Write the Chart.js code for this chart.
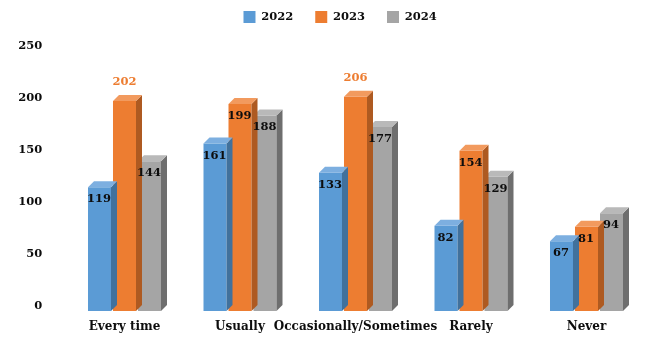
<!DOCTYPE html>
<html>
<head>
<meta charset="utf-8">
<script src="https://cdn.jsdelivr.net/npm/chart.js@4"></script>
<style>
  html, body { margin: 0; padding: 0; background: #ffffff; }
  #wrap { width: 660px; height: 356px; position: relative; }
</style>
</head>
<body>
<div id="wrap"><canvas id="c" width="660" height="356"></canvas></div>
<script>
const categories = ["Every time", "Usually", "Occasionally/Sometimes", "Rarely", "Never"];
const seriesNames = ["2022", "2023", "2024"];
const values2022 = [119, 161, 133, 82, 67];
const values2023 = [202, 199, 206, 154, 81];
const values2024 = [144, 188, 177, 129, 94];
const yTicks = [0, 50, 100, 150, 200, 250];

const frontColors = ["#5B9BD5", "#ED7D31", "#A5A5A5"];
const topColors = ["#7DAFE0", "#F29A5E", "#B9B9B9"];
const sideColors = ["#41719C", "#AE5A21", "#6E6E6E"];
const FONT = "'DejaVu Serif', 'Liberation Serif', serif";
const TEXT = "#0d0d0d";
const DEPTH = 6;

const threeD = {
  id: "threeD",
  afterDatasetDraw(chart, args) {
    const i = args.index;
    const ctx = chart.ctx;
    const meta = chart.getDatasetMeta(i);
    ctx.save();
    meta.data.forEach((bar) => {
      const p = bar.getProps(["x", "y", "base", "width"], true);
      const l = p.x - p.width / 2, r = p.x + p.width / 2, t = p.y, b = p.base;
      ctx.fillStyle = sideColors[i];
      ctx.beginPath();
      ctx.moveTo(r, t);
      ctx.lineTo(r + DEPTH, t - DEPTH);
      ctx.lineTo(r + DEPTH, b - DEPTH);
      ctx.lineTo(r, b);
      ctx.closePath();
      ctx.fill();
      ctx.fillStyle = topColors[i];
      ctx.beginPath();
      ctx.moveTo(l, t);
      ctx.lineTo(l + DEPTH, t - DEPTH);
      ctx.lineTo(r + DEPTH, t - DEPTH);
      ctx.lineTo(r, t);
      ctx.closePath();
      ctx.fill();
    });
    ctx.restore();
  }
};

const valueLabels = {
  id: "valueLabels",
  afterDatasetsDraw(chart) {
    const ctx = chart.ctx;
    ctx.save();
    ctx.font = "bold 11.5px " + FONT;
    ctx.textAlign = "center";
    ctx.textBaseline = "middle";
    chart.data.datasets.forEach((ds, i) => {
      const meta = chart.getDatasetMeta(i);
      meta.data.forEach((bar, j) => {
        const v = ds.data[j];
        const p = bar.getProps(["x", "y"], true);
        if (v > 200) {
          ctx.fillStyle = frontColors[i];
          ctx.fillText(String(v), p.x, p.y - 19);
        } else {
          ctx.fillStyle = TEXT;
          ctx.fillText(String(v), p.x - 0.5, p.y + 12);
        }
      });
    });
    ctx.restore();
  }
};

// Excel places the legend a little right of the canvas centre
const legendPlacement = {
  id: "legendPlacement",
  afterLayout(chart) {
    const lg = chart.legend;
    if (lg) { lg.left = 36; lg.width = lg.right - lg.left; }
  }
};

const datasets = [values2022, values2023, values2024].map((vals, i) => ({
  label: seriesNames[i],
  data: vals,
  backgroundColor: frontColors[i],
  borderWidth: 0,
  categoryPercentage: 0.6494,
  barPercentage: 0.92
}));

new Chart(document.getElementById("c"), {
  type: "bar",
  data: { labels: categories, datasets },
  plugins: [threeD, valueLabels, legendPlacement],
  options: {
    responsive: false,
    animation: false,
    events: [],
    layout: { padding: { top: -11, left: 12, right: 15.75, bottom: 0 } },
    plugins: {
      tooltip: { enabled: false },
      legend: {
        position: "top",
        align: "center",
        labels: {
          boxWidth: 12,
          boxHeight: 12,
          padding: 22,
          color: TEXT,
          font: { family: FONT, size: 11.5, weight: "bold" }
        }
      }
    },
    scales: {
      x: {
        grid: { display: false },
        border: { display: false },
        ticks: {
          color: TEXT,
          padding: 1,
          maxRotation: 0,
          autoSkip: false,
          font: { family: FONT, size: 12, weight: "bold" }
        },
        afterFit(s) { s.height = 45; }
      },
      y: {
        min: 0,
        max: 267.3,
        grid: { display: false },
        border: { display: false },
        afterBuildTicks(s) { s.ticks = yTicks.map(v => ({ value: v })); },
        ticks: {
          color: TEXT,
          padding: 16.5,
          labelOffset: -5,
          font: { family: FONT, size: 11.5, weight: "bold" }
        },
        afterFit(s) { s.width = 54.75; }
      }
    }
  }
});
</script>
</body>
</html>
